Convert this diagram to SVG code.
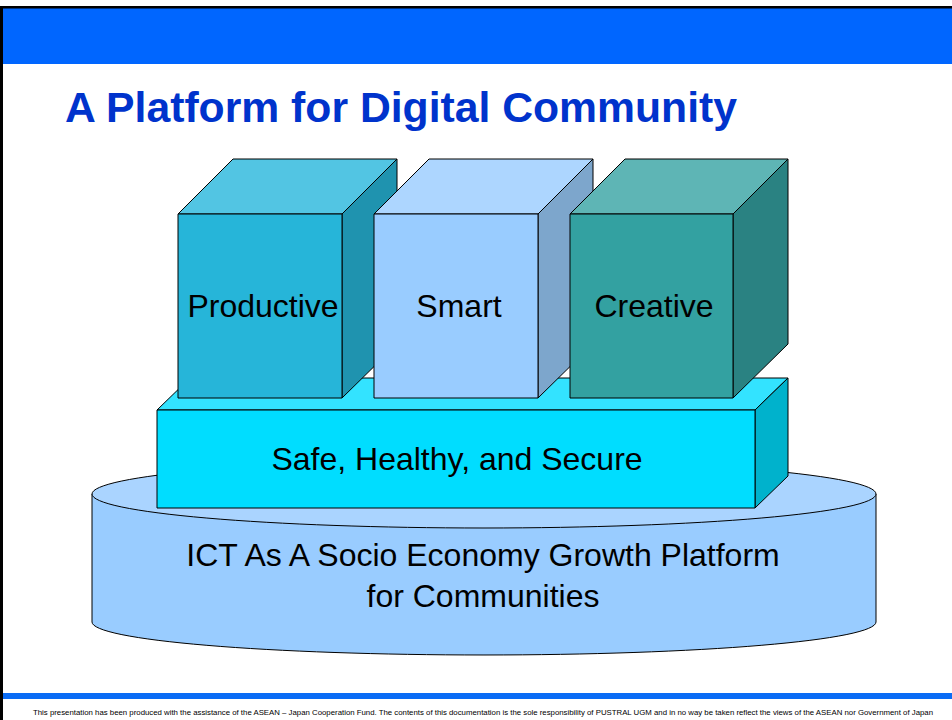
<svg xmlns="http://www.w3.org/2000/svg" width="952" height="720" viewBox="0 0 952 720">
<style>
.e{stroke:#000;stroke-width:1;stroke-linejoin:round}
.lbl{font-family:"Liberation Sans",Arial,sans-serif;font-size:32px;fill:#000;text-anchor:middle}
</style>
<rect x="0" y="0" width="952" height="720" fill="#fff"/>
<rect x="0" y="6" width="952" height="58" fill="#0066FF"/>
<rect x="0" y="6" width="952" height="2.5" fill="#000"/>
<rect x="0" y="6" width="3" height="714" fill="#000"/>
<rect x="3" y="693" width="949" height="6" fill="#0A6CF5"/>
<text x="65" y="122" font-family="'Liberation Sans',Arial,sans-serif" font-weight="bold" font-size="42.5" fill="#0033CC" textLength="672" lengthAdjust="spacingAndGlyphs">A Platform for Digital Community</text>

<g id="platform">
<path class="e" d="M92,494 L92,622 A392,33 0 0 0 876,622 L876,494 Z" fill="#99CCFF"/>
<ellipse class="e" cx="484" cy="494" rx="392" ry="34" fill="#AAD4FF"/>
<text class="lbl" x="483" y="566">ICT As A Socio Economy Growth Platform</text>
<text class="lbl" x="483" y="607">for Communities</text>
</g>

<g id="safe">
<polygon class="e" points="157,410 190,378 788,378 755,410" fill="#33E3FF"/>
<polygon class="e" points="755,410 788,378 788,476 755,508" fill="#00B2CC"/>
<rect class="e" x="157" y="410" width="598" height="98" fill="#00DDFF"/>
<text class="lbl" x="457" y="470">Safe, Healthy, and Secure</text>
</g>

<g id="productive">
<polygon class="e" points="178,214 233,159 397,159 342,214" fill="#52C5E3"/>
<polygon class="e" points="342,214 397,159 397,344 342,398" fill="#1F93AF"/>
<rect class="e" x="178" y="214" width="164" height="184" fill="#26B5D9"/>
<text class="lbl" x="263" y="317">Productive</text>
</g>

<g id="smart">
<polygon class="e" points="374,214 429,159 593,159 538,214" fill="#ADD6FF"/>
<polygon class="e" points="538,214 593,159 593,344 538,398" fill="#7DA6CC"/>
<rect class="e" x="374" y="214" width="164" height="184" fill="#99CCFF"/>
<text class="lbl" x="459" y="317">Smart</text>
</g>

<g id="creative">
<polygon class="e" points="570,214 625,159 788,159 733,214" fill="#5EB5B5"/>
<polygon class="e" points="733,214 788,159 788,344 733,398" fill="#2A8282"/>
<rect class="e" x="570" y="214" width="163" height="184" fill="#33A1A1"/>
<text class="lbl" x="654" y="317">Creative</text>
</g>

<g id="connectors"></g>

<text x="483" y="715" font-family="'Liberation Sans',Arial,sans-serif" font-size="7.5" fill="#000" text-anchor="middle" textLength="900" lengthAdjust="spacingAndGlyphs">This presentation has been produced with the assistance of the ASEAN – Japan Cooperation Fund. The contents of this documentation is the sole responsibility of PUSTRAL UGM and in no way be taken reflect the views of the ASEAN nor Government of Japan</text>
</svg>
